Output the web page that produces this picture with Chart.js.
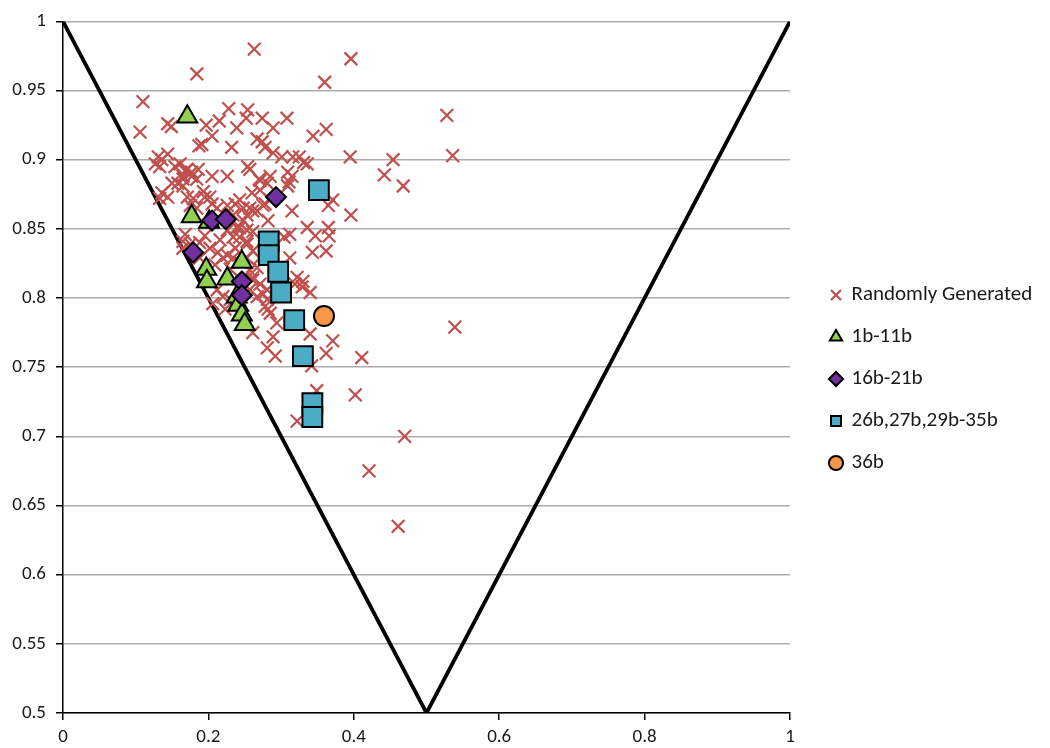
<!DOCTYPE html>
<html>
<head>
<meta charset="utf-8">
<title>Scatter</title>
<script src="https://cdn.jsdelivr.net/npm/chart.js@4.4.1/dist/chart.umd.min.js"></script>
<style>
  html, body { margin: 0; padding: 0; background: #fff; }
  #chart { display: block; }
</style>
</head>
<body>
<canvas id="chart" width="1050" height="748"></canvas>
<script>
// series, [x, y]
const randomPts = [
  [0.263, 0.980], [0.396, 0.973], [0.184, 0.962], [0.360, 0.956], [0.110, 0.942],
  [0.528, 0.932], [0.106, 0.920], [0.144, 0.926], [0.149, 0.924], [0.197, 0.925],
  [0.205, 0.917], [0.187, 0.910], [0.215, 0.928], [0.228, 0.937], [0.239, 0.923],
  [0.232, 0.909], [0.254, 0.936], [0.252, 0.930], [0.274, 0.930], [0.289, 0.923],
  [0.308, 0.930], [0.267, 0.915], [0.274, 0.913], [0.289, 0.905], [0.301, 0.902],
  [0.316, 0.902], [0.325, 0.902], [0.331, 0.898], [0.254, 0.895], [0.127, 0.897],
  [0.136, 0.900], [0.144, 0.904], [0.161, 0.897], [0.171, 0.893], [0.165, 0.888],
  [0.177, 0.891], [0.205, 0.888], [0.226, 0.888], [0.270, 0.886], [0.285, 0.888],
  [0.309, 0.891], [0.344, 0.917], [0.362, 0.922], [0.395, 0.902], [0.454, 0.900],
  [0.536, 0.903], [0.442, 0.889], [0.468, 0.881], [0.311, 0.884], [0.315, 0.863],
  [0.365, 0.867], [0.371, 0.871], [0.396, 0.860], [0.336, 0.851], [0.347, 0.845],
  [0.365, 0.851], [0.366, 0.845], [0.343, 0.833], [0.362, 0.834], [0.312, 0.829],
  [0.304, 0.844], [0.322, 0.815], [0.330, 0.812], [0.329, 0.808], [0.340, 0.804],
  [0.278, 0.909], [0.336, 0.897], [0.257, 0.893], [0.315, 0.888], [0.309, 0.881],
  [0.271, 0.885], [0.281, 0.883], [0.260, 0.876], [0.271, 0.878], [0.278, 0.868],
  [0.261, 0.863], [0.253, 0.860], [0.248, 0.856], [0.243, 0.851], [0.282, 0.856],
  [0.312, 0.846], [0.261, 0.848], [0.191, 0.911], [0.131, 0.902], [0.133, 0.895],
  [0.154, 0.895], [0.168, 0.892], [0.177, 0.888], [0.158, 0.883], [0.165, 0.881],
  [0.150, 0.883], [0.136, 0.876], [0.144, 0.873], [0.133, 0.872], [0.179, 0.872],
  [0.193, 0.877], [0.195, 0.873], [0.202, 0.873], [0.205, 0.868], [0.175, 0.867],
  [0.184, 0.865], [0.212, 0.865], [0.226, 0.867], [0.237, 0.868], [0.243, 0.871],
  [0.248, 0.865], [0.234, 0.860], [0.239, 0.851], [0.253, 0.849], [0.243, 0.844],
  [0.253, 0.841], [0.234, 0.844], [0.168, 0.846], [0.165, 0.841], [0.165, 0.886],
  [0.186, 0.893], [0.184, 0.886], [0.171, 0.873], [0.257, 0.865], [0.267, 0.863],
  [0.275, 0.867], [0.285, 0.871], [0.175, 0.839], [0.165, 0.836], [0.226, 0.849],
  [0.253, 0.839], [0.261, 0.834], [0.226, 0.831], [0.234, 0.829], [0.253, 0.829],
  [0.271, 0.829], [0.267, 0.822], [0.213, 0.833], [0.220, 0.829], [0.319, 0.810],
  [0.261, 0.815], [0.271, 0.810], [0.281, 0.806], [0.267, 0.801], [0.281, 0.799],
  [0.212, 0.806], [0.220, 0.801], [0.206, 0.796], [0.188, 0.840], [0.202, 0.836],
  [0.188, 0.829], [0.209, 0.824], [0.237, 0.836], [0.243, 0.826], [0.230, 0.821],
  [0.195, 0.845], [0.216, 0.842], [0.257, 0.820], [0.261, 0.813], [0.230, 0.799],
  [0.223, 0.792], [0.257, 0.806], [0.275, 0.803], [0.285, 0.789], [0.294, 0.782],
  [0.289, 0.772], [0.261, 0.775], [0.278, 0.794], [0.282, 0.792], [0.281, 0.764],
  [0.292, 0.758], [0.340, 0.774], [0.371, 0.769], [0.362, 0.760], [0.411, 0.757],
  [0.342, 0.751], [0.349, 0.733], [0.402, 0.730], [0.322, 0.711], [0.470, 0.700],
  [0.421, 0.675], [0.461, 0.635], [0.539, 0.779]
];
const pts1b11b = [
  [0.171, 0.931], [0.177, 0.859], [0.201, 0.855], [0.197, 0.821], [0.198, 0.812],
  [0.226, 0.814], [0.246, 0.826], [0.239, 0.801], [0.241, 0.795], [0.246, 0.788],
  [0.250, 0.781]
];
const pts16b21b = [
  [0.179, 0.833], [0.205, 0.856], [0.224, 0.857], [0.293, 0.873], [0.246, 0.812],
  [0.246, 0.802]
];
const pts26b35b = [
  [0.352, 0.878], [0.283, 0.841], [0.283, 0.831], [0.296, 0.819], [0.300, 0.804],
  [0.318, 0.784], [0.330, 0.758], [0.343, 0.724], [0.343, 0.714]
];
const pts36b = [[0.359, 0.787]];
// boundary V: (0,1) -> (0.5,0.5) -> (1,1)
const boundary = [[0, 1], [0.5, 0.5], [1, 1]];

const seriesLabels = ['Randomly Generated', '1b-11b', '16b-21b', '26b,27b,29b-35b', '36b'];
const xTicks = [0, 0.2, 0.4, 0.6, 0.8, 1];
const yTicks = [0.5, 0.55, 0.6, 0.65, 0.7, 0.75, 0.8, 0.85, 0.9, 0.95, 1];

const toXY = (arr) => arr.map(([x, y]) => ({ x, y }));
const fmt = (v) => String(Number(v.toFixed(2)));

Chart.defaults.font.family = 'Carlito, Lato, "Open Sans", sans-serif';
Chart.defaults.color = '#1a1a1a';

// fixed legend column so the plot ends where the original does
const legendFit = {
  id: 'legendFit',
  beforeInit(chart) {
    const fit = chart.legend.fit;
    chart.legend.fit = function () {
      fit.call(this);
      this.width = 260;
    };
  },
  afterLayout(chart) {
    chart.legend.left += 20;
  },
};

new Chart(document.getElementById('chart'), {
  type: 'scatter',
  data: {
    datasets: [
      {
        label: seriesLabels[0], data: toXY(randomPts), order: 4,
        pointStyle: 'crossRot', pointRadius: 9, pointHoverRadius: 9,
        borderColor: '#c0504d', backgroundColor: '#c0504d', borderWidth: 2.2,
      },
      {
        label: seriesLabels[1], data: toXY(pts1b11b), order: 3,
        pointStyle: 'triangle', pointRadius: 11.5, pointHoverRadius: 11.5,
        backgroundColor: '#92d050', borderColor: '#000', borderWidth: 2,
      },
      {
        label: seriesLabels[2], data: toXY(pts16b21b), order: 2,
        pointStyle: 'rectRot', pointRadius: 10, pointHoverRadius: 10,
        backgroundColor: '#7030a0', borderColor: '#000', borderWidth: 2,
      },
      {
        label: seriesLabels[3], data: toXY(pts26b35b), order: 1,
        pointStyle: 'rect', pointRadius: 14, pointHoverRadius: 14,
        backgroundColor: '#4bacc6', borderColor: '#000', borderWidth: 2,
      },
      {
        label: seriesLabels[4], data: toXY(pts36b), order: 0,
        pointStyle: 'circle', pointRadius: 10, pointHoverRadius: 10,
        backgroundColor: '#f79646', borderColor: '#000', borderWidth: 2,
      },
      {
        label: 'boundary', data: toXY(boundary), order: 5,
        showLine: true, pointRadius: 0, borderColor: '#000', borderWidth: 3.8,
      },
    ],
  },
  options: {
    responsive: false,
    animation: false,
    devicePixelRatio: 1,
    layout: { padding: { top: 10, right: 0, bottom: 0, left: 0 } },
    plugins: {
      tooltip: { enabled: false },
      legend: {
        position: 'right',
        align: 'center',
        labels: {
          usePointStyle: true,
          boxWidth: 10,
          boxHeight: 10,
          padding: 21,
          color: '#1a1a1a',
          font: { size: 21 },
          filter: (item) => item.text !== 'boundary',
          sort: (a, b) => a.datasetIndex - b.datasetIndex,
        },
      },
    },
    scales: {
      x: {
        type: 'linear', min: 0, max: 1,
        afterBuildTicks: (scale) => { scale.ticks = xTicks.map((v) => ({ value: v })); },
        afterFit: (scale) => { scale.height = 35; },
        ticks: { callback: (v) => fmt(v), font: { size: 19 }, color: '#1a1a1a', padding: 6, maxRotation: 0 },
        grid: { drawOnChartArea: false, drawTicks: true, tickLength: 7, color: '#000', lineWidth: 1.5 },
        border: { color: '#000', width: 1.5 },
      },
      y: {
        type: 'linear', min: 0.5, max: 1,
        afterBuildTicks: (scale) => { scale.ticks = yTicks.map((v) => ({ value: v })); },
        afterFit: (scale) => { scale.width = 63; },
        ticks: { callback: (v) => fmt(v), font: { size: 19 }, color: '#1a1a1a', padding: 10 },
        grid: { color: '#ababab', lineWidth: 1.5, tickLength: 7, tickColor: '#000', tickWidth: 1.5 },
        border: { color: '#000', width: 1.5 },
      },
    },
  },
  plugins: [legendFit],
});
</script>
</body>
</html>
